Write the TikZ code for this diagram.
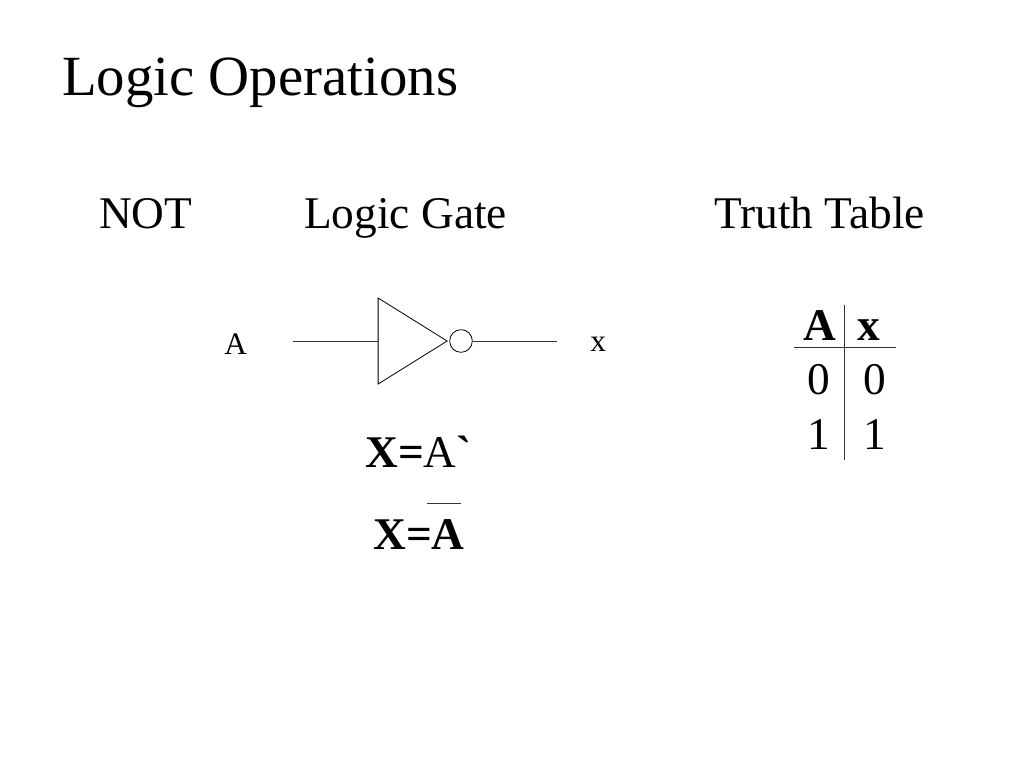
\documentclass[tikz,border=0pt]{standalone}
\usepackage{fontspec}
\setmainfont{Liberation Serif}
\newfontfamily\plainserif{Liberation Serif}
\usetikzlibrary{shapes.geometric,positioning}

\begin{document}
\begin{tikzpicture}[
    x=0.75pt, y=-0.75pt,
    title/.style={anchor=base west, inner sep=0pt, font=\fontsize{42.6}{44}\selectfont},
    heading/.style={anchor=base west, inner sep=0pt, font=\fontsize{34}{36}\selectfont},
    pinlabel/.style={anchor=base west, inner sep=0pt, font=\fontsize{23.5}{26}\selectfont},
    equation/.style={anchor=base west, inner sep=0pt, font=\fontsize{34}{36}\selectfont\bfseries},
    cell/.style={anchor=base, inner sep=0pt, font=\fontsize{34}{36}\selectfont},
    headcell/.style={cell, font=\fontsize{34}{36}\selectfont\bfseries},
    gate/.style={isosceles triangle, isosceles triangle stretches, draw, line width=0.6pt, inner sep=0pt, minimum height=51.75pt, minimum width=64.5pt},
    bubble/.style={circle, draw, line width=0.6pt, inner sep=0pt, minimum size=17pt},
    wire/.style={line width=0.6pt, black!80}
  ]
  \useasboundingbox (0,0) rectangle (1024,768);

  \node[title] (title) at (62,95) {Logic Operations};
  \node[heading] (nothead) at (99,228) {NOT};
  \node[heading] (gatehead) at (304,228) {Logic Gate};
  \node[heading] (tablehead) at (714,228) {Truth Table};

  % inverter
  \node[gate] (inv) at (402,341) {};
  \node[bubble] (bub) at (461,341) {};
  \coordinate (inA) at (293,341);
  \coordinate (outX) at (557,341);
  \node[pinlabel] (labA) at (224,354) {A};
  \node[pinlabel] (labX) at (590,351) {x};
  \draw[wire] (inA) -- (inv.west);
  \draw[wire] (bub.east) -- (outX);

  % equations
  \node[equation] (eq1) at (365,467) {X={\mdseries A}{\plainserif\bfseries `}};
  \node[equation] (eq2) at (373,549) {X=A};
  \coordinate (barL) at (427,503);
  \coordinate (barR) at (461,503);
  \draw[line width=0.5pt, black!80] (barL) -- (barR);

  % truth table
  \node[headcell] (ta) at (820,340) {A};
  \node[headcell] (tx) at (869,340) {x};
  \node[cell] (a0) at (818.5,394) {0};
  \node[cell] (x0) at (875,394) {0};
  \node[cell] (a1) at (818.5,449) {1};
  \node[cell] (x1) at (875,449) {1};
  \coordinate (vtop) at (844,305);
  \coordinate (vbot) at (844,460);
  \coordinate (hleft) at (794,347);
  \coordinate (hright) at (896,347);
  \draw[wire] (vtop) -- (vbot);
  \draw[wire] (hleft) -- (hright);

\end{tikzpicture}
\end{document}
